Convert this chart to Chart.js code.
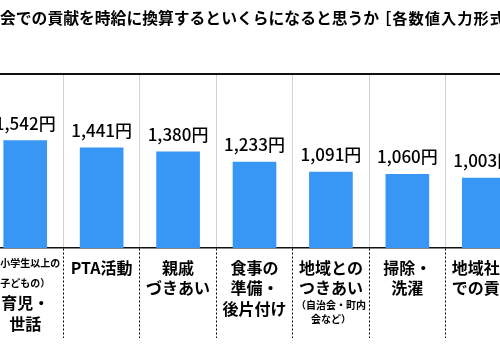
<!DOCTYPE html>
<html>
<head>
<meta charset="utf-8">
<script src="https://cdn.jsdelivr.net/npm/chart.js@4/dist/chart.umd.min.js"></script>
<style>
  html, body { margin: 0; padding: 0; background: #fff; overflow: hidden; width: 500px; height: 361px; }
  #wrap { position: absolute; left: -13px; top: 0; width: 535px; height: 361px; }
</style>
</head>
<body>
<div id="wrap"><canvas id="c" width="535" height="361"></canvas></div>
<script>
// ---- data ----
const titleMain = '会での貢献を時給に換算するといくらになると思うか';
const titleNote = '［各数値入力形式］';
const categories = [
  ['（小学生以上の', '子どもの）', '育児・', '世話'],
  ['PTA活動'],
  ['親戚', 'づきあい'],
  ['食事の', '準備・', '後片付け'],
  ['地域との', 'つきあい', '（自治会・町内', '会など）'],
  ['掃除・', '洗濯'],
  ['地域社会', 'での貢献']
];
const smallLines = ['（小学生以上の', '子どもの）', '（自治会・町内', '会など）'];
const values = [1542, 1441, 1380, 1233, 1091, 1060, 1003];
const unit = '円';
const yMin = 0;
const yMax = 2500;

const FONT = '"Noto Sans CJK JP", "Noto Sans", sans-serif';

// per-category vertical offsets (from chart bottom) of each label line
const lineOffsets = [
  [15, 35, 55, 76],
  [20],
  [20, 40],
  [20, 40, 61],
  [20, 40, 57, 71],
  [20, 40],
  [20, 40]
];

const drawPlugin = {
  id: 'customText',
  afterDraw(chart) {
    const ctx = chart.ctx;
    const area = chart.chartArea;
    const xs = chart.scales.x;
    ctx.save();
    // title
    ctx.fillStyle = '#000';
    ctx.font = 'bold 15.8px ' + FONT;
    ctx.textAlign = 'left';
    ctx.textBaseline = 'middle';
    ctx.fillText(titleMain, 13, 18);
    ctx.font = 'bold 15.25px ' + FONT;
    ctx.letterSpacing = '1px';
    ctx.fillText(titleNote, 13 + 376, 18);
    ctx.letterSpacing = '0px';
    // top rule
    ctx.strokeStyle = '#111';
    ctx.lineWidth = 2;
    ctx.beginPath();
    ctx.moveTo(0, area.top);
    ctx.lineTo(chart.width, area.top);
    ctx.stroke();
    // value labels
    const meta = chart.getDatasetMeta(0);
    ctx.textAlign = 'center';
    ctx.textBaseline = 'alphabetic';
    ctx.font = '500 17px ' + FONT;
    meta.data.forEach((bar, i) => {
      ctx.fillText(values[i].toLocaleString('en-US') + unit, bar.x, bar.y - 11);
    });
    // category labels
    ctx.textBaseline = 'middle';
    categories.forEach((lines, i) => {
      const x = xs.getPixelForValue(i);
      lines.forEach((ln, j) => {
        const small = smallLines.includes(ln);
        ctx.font = (small ? 'bold 10px ' : 'bold 16px ') + FONT;
        ctx.fillText(ln, x, area.bottom + lineOffsets[i][j]);
      });
    });
    ctx.restore();
  }
};

new Chart(document.getElementById('c'), {
  type: 'bar',
  data: {
    labels: categories,
    datasets: [{
      data: values,
      backgroundColor: '#3896F4',
      borderWidth: 0,
      barThickness: 43
    }]
  },
  options: {
    responsive: false,
    animation: false,
    devicePixelRatio: 1,
    layout: { padding: { top: 74, bottom: 23, left: 0, right: 0 } },
    plugins: { legend: { display: false }, tooltip: { enabled: false }, title: { display: false } },
    scales: {
      x: {
        offset: true,
        grid: {
          display: true,
          offset: true,
          color: '#d2d2d2',
          lineWidth: 1,
          drawTicks: true,
          tickLength: 90,
          tickColor: '#000',
          tickWidth: 1,
          tickBorderDash: [2, 2]
        },
        border: { display: true, color: '#111', width: 1.5 },
        ticks: { display: false }
      },
      y: {
        display: false,
        min: yMin,
        max: yMax
      }
    }
  },
  plugins: [drawPlugin]
});
</script>
</body>
</html>
